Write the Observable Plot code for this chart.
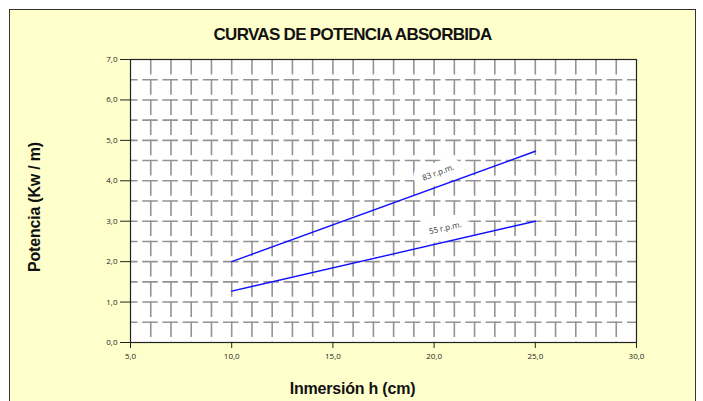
<!DOCTYPE html>
<html>
<head>
<meta charset="utf-8">
<script src="https://cdn.jsdelivr.net/npm/d3@7"></script>
<script src="https://cdn.jsdelivr.net/npm/@observablehq/plot@0.6"></script>
<style>
  html, body { margin: 0; padding: 0; background: #ffffff; }
  #wrap { position: relative; width: 703px; height: 401px; overflow: hidden; }
  #box { position: absolute; left: 9px; top: 9px; width: 687px; height: 400px;
         background: #FFFFCC; border: 1px solid #333; box-sizing: border-box; }
  #chart { position: absolute; left: 0; top: 0; }
  .lbl { position: absolute; font-family: "Liberation Sans", Arial, sans-serif; font-weight: bold; color: #111; white-space: nowrap; line-height: 20px; }
  #title { left: 9px; width: 687px; top: 25px; text-align: center; font-size: 17px; letter-spacing: -0.7px; }
  #xlabel { left: 9px; width: 687px; top: 379px; text-align: center; font-size: 16px; letter-spacing: -0.2px; }
  #ylabel { left: 35px; top: 207px; font-size: 16px; letter-spacing: -0.2px; transform: translate(-50%, -50%) rotate(-90deg); }
</style>
</head>
<body>
<div id="wrap">
  <div id="box"></div>
  <div id="chart"></div>
  <div id="title" class="lbl">CURVAS DE POTENCIA ABSORBIDA</div>
  <div id="ylabel" class="lbl">Potencia (Kw / m)</div>
  <div id="xlabel" class="lbl">Inmersión h (cm)</div>
</div>
<script>
// Data
const inmersion = [10, 25];
const potencia83 = [2.0, 4.73];
const potencia55 = [1.27, 3.0];
const seriesNames = ["83 r.p.m.", "55 r.p.m."];
const xTicks = [5, 10, 15, 20, 25, 30];
const yTicks = [0, 1, 2, 3, 4, 5, 6, 7];
const xGrid = d3.range(6, 30, 1);
const yGrid = d3.range(0.5, 7, 0.5);

const rows = [];
inmersion.forEach((x, i) => rows.push({serie: seriesNames[0], x, y: potencia83[i]}));
inmersion.forEach((x, i) => rows.push({serie: seriesNames[1], x, y: potencia55[i]}));

function interp(xs, ys, x) {
  const t = (x - xs[0]) / (xs[1] - xs[0]);
  return ys[0] + t * (ys[1] - ys[0]);
}
const labels = [
  {serie: seriesNames[0], x: 20.2, y: interp(inmersion, potencia83, 20.2), rot: -20},
  {serie: seriesNames[1], x: 20.55, y: interp(inmersion, potencia55, 20.55), rot: -13}
];

const fmt = d => d.toFixed(1).replace(".", ",");

const chart = Plot.plot({
  width: 703,
  height: 401,
  marginLeft: 130,
  marginRight: 67,
  marginTop: 59,
  marginBottom: 59,
  style: {background: "transparent", fontFamily: "'Open Sans', sans-serif", fontSize: "8px", color: "#222"},
  x: {domain: [5, 30], ticks: xTicks, tickFormat: fmt, tickSize: 6, tickPadding: 5, label: null},
  y: {domain: [0, 7], ticks: yTicks, tickFormat: fmt, tickSize: 10, tickPadding: 3, label: null},
  marks: [
    Plot.frame({fill: "white", stroke: null}),
    Plot.ruleX(xGrid, {stroke: "#939393", strokeWidth: 1.6, strokeDasharray: "15.5,4.7", strokeDashoffset: 0}),
    Plot.ruleY(yGrid, {stroke: "#939393", strokeWidth: 1.6, strokeDasharray: "15.5,4.7", strokeDashoffset: 8}),
    Plot.text(labels, {x: "x", y: "y", text: "serie", rotate: d => d.rot, dy: -14,
      fill: "#333", stroke: "white", strokeWidth: 18, fontSize: 8, fontFamily: "'Open Sans', sans-serif"}),
    Plot.line(rows, {x: "x", y: "y", z: "serie", stroke: "#1010ff", strokeWidth: 1.4}),
    Plot.frame({stroke: "#222", strokeWidth: 1.2})
  ]
});
document.getElementById("chart").appendChild(chart);
</script>
</body>
</html>
